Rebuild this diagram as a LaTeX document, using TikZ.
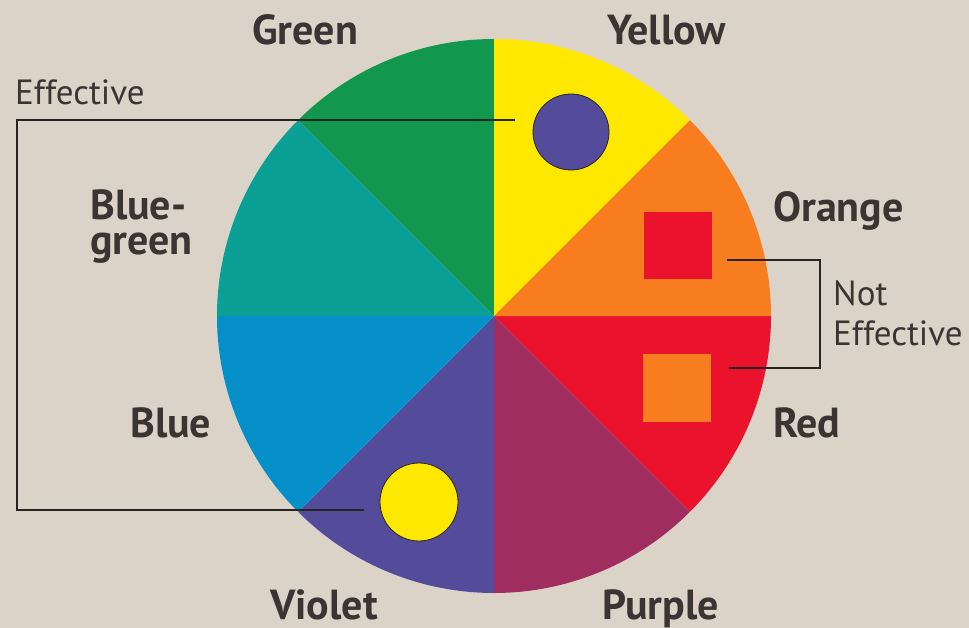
\documentclass[tikz,border=0pt]{standalone}
\usepackage{fontspec}
\setmainfont{PT Sans}
\definecolor{bgc}{RGB}{220,211,200}
\definecolor{txtc}{RGB}{58,53,50}
\definecolor{linec}{RGB}{40,36,34}
\definecolor{cgreen}{RGB}{18,152,78}
\definecolor{cyellow}{RGB}{255,232,0}
\definecolor{corange}{RGB}{247,125,30}
\definecolor{cred}{RGB}{234,18,45}
\definecolor{cpurple}{RGB}{160,45,95}
\definecolor{cviolet}{RGB}{85,75,155}
\definecolor{cblue}{RGB}{5,143,200}
\definecolor{cbluegreen}{RGB}{10,160,150}
\begin{document}
\begin{tikzpicture}[x=1pt,y=-1pt,
  colorlabel/.style={text=txtc,inner sep=0pt,font=\fontsize{42}{35}\selectfont\bfseries},
  notelabel/.style={text=txtc,inner sep=0pt,font=\fontsize{35}{40}\selectfont},
  conn/.style={draw=linec,line width=2pt},
  dot/.style={circle,draw=linec,line width=0.8pt,inner sep=0pt},
  sq/.style={inner sep=0pt}]
\fill[bgc] (0,0) rectangle (969,628);
\useasboundingbox (0,0) rectangle (969,628);
\coordinate (C) at (494,316);
\def\R{277}
\fill[cred]       (C) -- ++(0:\R)   arc (0:45:\R)    -- cycle;
\fill[cpurple]    (C) -- ++(45:\R)  arc (45:90:\R)   -- cycle;
\fill[cviolet]    (C) -- ++(90:\R)  arc (90:135:\R)  -- cycle;
\fill[cblue]      (C) -- ++(135:\R) arc (135:180:\R) -- cycle;
\fill[cbluegreen] (C) -- ++(180:\R) arc (180:225:\R) -- cycle;
\fill[cgreen]     (C) -- ++(225:\R) arc (225:270:\R) -- cycle;
\fill[cyellow]    (C) -- ++(270:\R) arc (270:315:\R) -- cycle;
\fill[corange]    (C) -- ++(315:\R) arc (315:360:\R) -- cycle;

\node[dot,fill=cviolet,minimum size=76pt] (vdot) at (571,132) {};
\node[dot,fill=cyellow,minimum size=78pt] (ydot) at (419,502) {};
\node[sq,fill=cred,minimum width=68pt,minimum height=67pt] (rsq) at (678,245.5) {};
\node[sq,fill=corange,minimum width=68pt,minimum height=68pt] (osq) at (677,388) {};

\node[colorlabel,anchor=base west] (lgreen) at (252,45) {Green};
\node[colorlabel,anchor=base west] (lyellow) at (607,45) {Yellow};
\node[colorlabel,anchor=base west] (lorange) at (773,222) {Orange};
\node[colorlabel,anchor=base west] (lred) at (773,437) {Red};
\node[colorlabel,anchor=base west] (lpurple) at (602,619) {Purple};
\node[colorlabel,anchor=base west] (lviolet) at (270,619) {Violet};
\node[colorlabel,anchor=base west] (lblue) at (130,437) {Blue};
\node[colorlabel,anchor=base west,align=left] (lbluegreen) at (90,255) {Blue-\\green};

\node[notelabel,anchor=base west] (leff) at (15,105) {Effective};
\node[notelabel,anchor=base west,align=left] (lnot) at (833,345) {Not\\Effective};

\coordinate (e1) at (515,120);
\coordinate (e2) at (364,510);
\draw[conn] (e1) -- (17,120) |- (e2);
\coordinate (n1) at (727,260);
\coordinate (n2) at (729,368);
\draw[conn] (n1) -- (820,260) |- (n2);
\end{tikzpicture}
\end{document}
